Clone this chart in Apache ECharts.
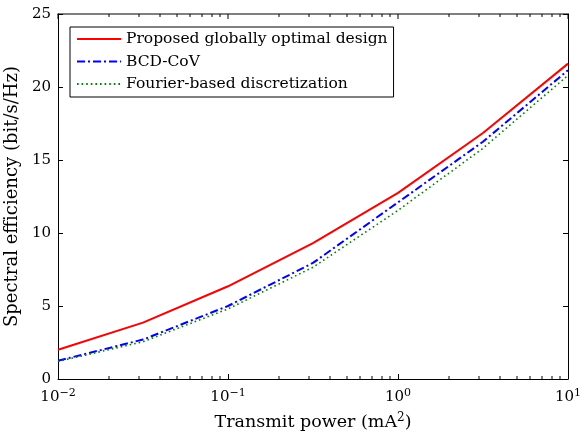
<!DOCTYPE html>
<html>
<head>
<meta charset="utf-8">
<script src="https://cdn.jsdelivr.net/npm/echarts@6/dist/echarts.min.js"></script>
<style>html,body{margin:0;padding:0;background:#fff}#c{width:580px;height:432px}</style>
</head>
<body>
<div id="c"></div>
<script>
var xValues = [0.01, 0.0316, 0.1, 0.316, 1, 3.16, 10];
var proposed = [2.0, 3.86, 6.35, 9.3, 12.75, 16.85, 21.6];
var bcd = [1.25, 2.7, 5.0, 7.95, 12.1, 16.25, 21.15];
var fourier = [1.2, 2.55, 4.8, 7.65, 11.55, 15.8, 20.8];
var seriesNames = ['Proposed globally optimal design', 'BCD-CoV', 'Fourier-based discretization'];
var xDecades = [0.01, 0.1, 1, 10];
var xTickExps = ['\u22122', '\u22121', '0', '1'];
var yTicks = [0, 5, 10, 15, 20, 25];
var minorTicks = [];
[0.01, 0.1, 1].forEach(function (d) { for (var k = 2; k <= 9; k++) minorTicks.push(+(k * d).toPrecision(3)); });

var FONT = 'DejaVu Serif';
var chart = echarts.init(document.getElementById('c'), null, {renderer: 'canvas'});
function zip(xs, ys) { return xs.map(function (x, i) { return [x, ys[i]]; }); }
var expMap = {}; xDecades.forEach(function (v, i) { expMap[v] = xTickExps[i]; });

// [x value, y anchor, tick length, kind] kind: 0 minor, 1 major(top only), 2 top frame
var tickData = minorTicks.map(function (v) { return [v, 10, 3, 0]; })
  .concat(xDecades.map(function (v) { return [v, 10, 5, 1]; }))
  .concat([[0.01, 10, 0, 2]]);

var axisLineStyle = {color: '#000', width: 1};
chart.setOption({
  animation: false,
  grid: {left: 58, right: 12, top: 14, bottom: 53, outerBoundsMode: 'none'},
  legend: {
    data: seriesNames,
    orient: 'vertical', left: 70, top: 27,
    itemWidth: 44, itemHeight: 14, itemGap: 0.5,
    padding: [1, 6, 2, 6],
    itemStyle: {opacity: 0},
    borderColor: '#000', borderWidth: 1, backgroundColor: '#fff',
    textStyle: {fontFamily: FONT, fontSize: 15.5, color: '#000', lineHeight: 22}
  },
  xAxis: [{
    type: 'log', logBase: 10, min: 0.01, max: 10, position: 'bottom',
    name: 'Transmit power (mA{s|2})', nameLocation: 'middle', nameGap: 33,
    nameTextStyle: {fontFamily: FONT, fontSize: 17.5, color: '#000',
      rich: {s: {fontFamily: FONT, fontSize: 12, color: '#000', padding: [0, 0, 8, 0]}}},
    axisLine: {show: true, lineStyle: axisLineStyle},
    axisTick: {show: true, inside: true, length: 5, lineStyle: {color: '#000', width: 1}},
    splitLine: {show: false},
    axisLabel: {
      margin: 9, color: '#000',
      formatter: function (v) { var e = expMap[+v.toPrecision(3)]; return '{b|10}{s|' + e + '}'; },
      rich: {b: {fontFamily: FONT, fontSize: 15, color: '#000'}, s: {fontFamily: FONT, fontSize: 11, color: '#000', padding: [0, 0, 8, 0]}}
    }
  }],
  yAxis: [{
    type: 'value', min: 0, max: 25, interval: 5, position: 'left',
    name: 'Spectral efficiency (bit/s/Hz)', nameLocation: 'middle', nameGap: 25,
    nameTextStyle: {fontFamily: FONT, fontSize: 18, color: '#000'},
    axisLine: {show: true, lineStyle: axisLineStyle},
    axisTick: {show: true, inside: true, length: 5, lineStyle: {color: '#000', width: 1}},
    splitLine: {show: false},
    axisLabel: {margin: 7, fontFamily: FONT, fontSize: 15, color: '#000'}
  }, {
    type: 'value', min: 0, max: 25, interval: 5, position: 'right',
    axisLine: {show: true, lineStyle: axisLineStyle},
    axisTick: {show: true, inside: true, length: 5, lineStyle: {color: '#000', width: 1}},
    splitLine: {show: false}, axisLabel: {show: false}
  }],
  series: [{
    name: seriesNames[0], type: 'line', data: zip(xValues, proposed), symbol: 'none',
    lineStyle: {color: '#ff0000', width: 2, type: 'solid'}, itemStyle: {color: '#ff0000'}
  }, {
    name: seriesNames[1], type: 'line', data: zip(xValues, bcd), symbol: 'none',
    lineStyle: {color: '#0000ff', width: 2, type: [8, 3, 2, 3]}, itemStyle: {color: '#0000ff'}
  }, {
    name: seriesNames[2], type: 'line', data: zip(xValues, fourier), symbol: 'none',
    lineStyle: {color: '#008000', width: 1.6, type: [1.6, 3]}, itemStyle: {color: '#008000'}
  }, {
    name: 'ticks', type: 'custom', silent: true, clip: false,
    data: tickData,
    renderItem: function (params, api) {
      var x = api.value(0);
      var len = api.value(2);
      var kind = api.value(3);
      var pb = api.coord([x, 0]);
      var pt = api.coord([x, 25]);
      if (kind === 2) {
        var pe = api.coord([10, 25]);
        return {type: 'rect', shape: {x: Math.round(pt[0]) - 0.5, y: Math.round(pt[1]) - 0.5, width: Math.round(pe[0]) - Math.round(pt[0]) + 1, height: 1}, style: {fill: '#000'}};
      }
      var cx = Math.round(pt[0]);
      var children = [{type: 'rect', shape: {x: cx - 0.5, y: Math.round(pt[1]), width: 1, height: len}, style: {fill: '#000'}}];
      if (kind === 0) children.push({type: 'rect', shape: {x: cx - 0.5, y: Math.round(pb[1]) - len, width: 1, height: len}, style: {fill: '#000'}});
      return {type: 'group', children: children};
    }
  }]
});
</script>
</body>
</html>
